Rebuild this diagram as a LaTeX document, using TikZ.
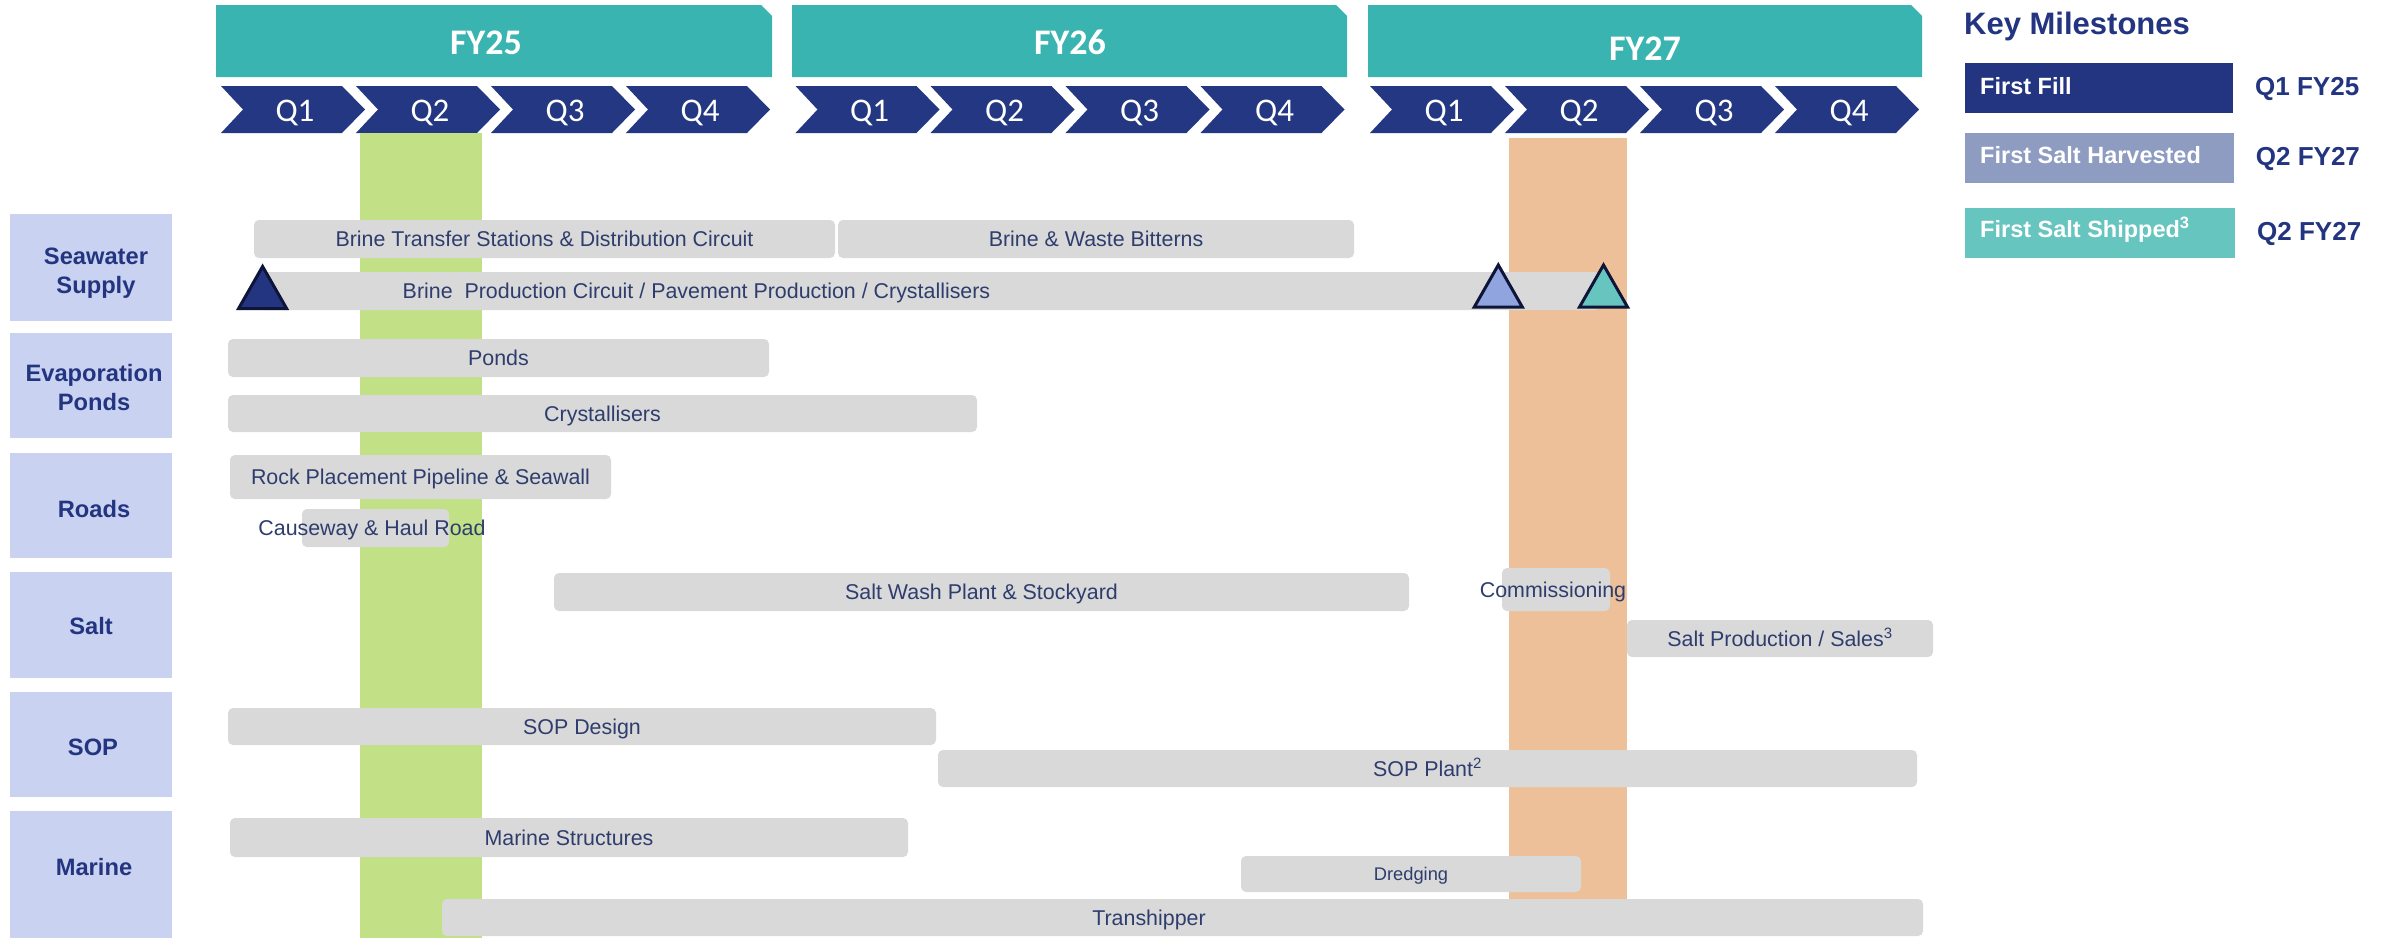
\documentclass[tikz,border=0pt]{standalone}
\usepackage{fontspec}
\setmainfont{Liberation Sans}
\newfontfamily\calib{Carlito}
\definecolor{hdrteal}{HTML}{3AB4B1}
\definecolor{chevnavy}{HTML}{243782}
\definecolor{navy}{HTML}{233580}
\definecolor{leglav}{HTML}{8F9CC2}
\definecolor{legteal}{HTML}{66C5BF}
\definecolor{trilav}{HTML}{90A4E0}
\definecolor{tristroke}{HTML}{0E1538}
\definecolor{colgreen}{HTML}{C2E187}
\definecolor{colorange}{HTML}{EDC09A}
\definecolor{catfill}{HTML}{C9D2F0}
\definecolor{barfill}{HTML}{D9D9D9}
\definecolor{bartext}{HTML}{2E3D6D}
\begin{document}
\begin{tikzpicture}[x=1pt,y=-1pt,
  bar/.style={fill=barfill, rounded corners=5pt, inner sep=0pt, outer sep=0pt},
  bartxt/.style={text=bartext, font=\fontsize{21.4}{24}\selectfont, inner sep=0pt, text height=15.3pt, text depth=0pt},
  barT/.style={bar, bartxt},
  cat/.style={fill=catfill, inner sep=0pt, outer sep=0pt, minimum width=162pt},
  cattxt/.style={text=navy, font=\bfseries\fontsize{23.7}{28}\selectfont, inner sep=0pt, text height=17pt, text depth=0pt},
  qtxt/.style={text=white, font=\calib\fontsize{33}{36}\selectfont, inner sep=0pt, text height=21.3pt, text depth=0pt},
  fytxt/.style={text=white, font=\calib\bfseries\fontsize{36}{40}\selectfont, inner sep=0pt, text height=23.2pt, text depth=0pt},
  tri/.style={draw=tristroke, line width=3pt, line join=miter},
  legbox/.style={inner sep=0pt, outer sep=0pt, minimum height=50pt},
  legtxt/.style={text=white, font=\bfseries\fontsize{23.5}{27}\selectfont, inner sep=0pt, text height=16.8pt, text depth=0pt, anchor=west},
  legdate/.style={text=navy, font=\bfseries\fontsize{26}{30}\selectfont, inner sep=0pt, text height=18.6pt, text depth=0pt, anchor=west},
]
\useasboundingbox (0,0) rectangle (2394,938);
\fill[white] (0,0) rectangle (2394,938);

% year headers
\foreach \a/\b in {216/772, 792/1347, 1368/1922}
  \fill[hdrteal] (\a,5) -- (\b-11,5) -- (\b,16) -- (\b,77) -- (\a,77) -- cycle;
\node[fytxt] (fy25) at (486,43) {FY25};
\node[fytxt] (fy26) at (1070,43) {FY26};
\node[fytxt] (fy27) at (1645,49) {FY27};

% quarter chevrons
\foreach \yr/\L in {25/221, 26/795.5, 27/1370} {
  \foreach \q in {1,...,4} {
    \pgfmathsetmacro\xq{\L+(\q-1)*135}
    \fill[chevnavy] (\xq,86) -- (\xq+121,86) -- (\xq+144,109.5) -- (\xq+121,133) -- (\xq,133) -- (\xq+22,109.5) -- cycle;
    \node[qtxt] (q\yr-\q) at (\xq+74,111) {Q\q};
  }
}

% highlight columns
\fill[colgreen] (360,133) rectangle (482,938);
\fill[colorange] (1509,138) rectangle (1627,900);

% category boxes
\node[cat, minimum height=107pt] (sws) at (91,267.5) {};
\node[cat, minimum height=105pt] (evp) at (91,385.5) {};
\node[cat, minimum height=105pt] (rds) at (91,505.5) {};
\node[cat, minimum height=106pt] (slt) at (91,625) {};
\node[cat, minimum height=105pt] (sop) at (91,744.5) {};
\node[cat, minimum height=127pt] (mrn) at (91,874.5) {};
\node[cattxt] (sws-a) at (96,255.7) {Seawater};
\node[cattxt] (sws-b) at (96,285) {Supply};
\node[cattxt] (evp-a) at (94,372.8) {Evaporation};
\node[cattxt] (evp-b) at (94,402) {Ponds};
\node[cattxt] (rds-a) at (94,509) {Roads};
\node[cattxt] (slt-a) at (91,626) {Salt};
\node[cattxt] (sop-a) at (93,746.7) {SOP};
\node[cattxt] (mrn-a) at (94,866.7) {Marine};

% activity bars
\node[barT, minimum width=581pt, minimum height=38pt] (bts) at (544.5,239) {Brine Transfer Stations \& Distribution Circuit};
\node[barT, minimum width=516pt, minimum height=38pt] (bwb) at (1096,239) {Brine \& Waste Bitterns};
\node[bar, minimum width=1340pt, minimum height=38pt] (bpc) at (930,291) {};
\node[bartxt] (bpc-t) at (696.5,291) {Brine\ \ Production Circuit / Pavement Production / Crystallisers};
\node[barT, minimum width=541pt, minimum height=38pt] (pnd) at (498.5,358) {Ponds};
\node[barT, minimum width=749pt, minimum height=37pt] (cry) at (602.5,413.5) {Crystallisers};
\node[barT, minimum width=381pt, minimum height=44pt] (rck) at (420.5,477) {Rock Placement Pipeline \& Seawall};
\node[bar, minimum width=147pt, minimum height=38pt] (cau) at (375.5,528) {};
\node[bartxt] (cau-t) at (372,528) {Causeway \& Haul Road};
\node[barT, minimum width=855pt, minimum height=38pt] (swp) at (981.5,592) {Salt Wash Plant \& Stockyard};
\node[bar, minimum width=108pt, minimum height=43pt] (com) at (1556,589.5) {};
\node[bartxt] (com-t) at (1553,590) {Commissioning};
\node[barT, minimum width=306pt, minimum height=37pt] (spr) at (1780,638.5) {Salt Production / Sales\textsuperscript{3}};
\node[barT, minimum width=708pt, minimum height=37pt] (sdn) at (582,726.5) {SOP Design};
\node[barT, minimum width=979pt, minimum height=37pt] (spl) at (1427.5,768.5) {SOP Plant\textsuperscript{2}};
\node[barT, minimum width=678pt, minimum height=39pt] (mst) at (569,837.5) {Marine Structures};
\node[bar, minimum width=340pt, minimum height=36pt] (drd) at (1411,874) {};
\node[bartxt, font=\fontsize{18.3}{21}\selectfont, text height=13.1pt] (drd-t) at (1411,874) {Dredging};
\node[bar, minimum width=1481pt, minimum height=37pt] (trn) at (1182.5,917.5) {};
\node[bartxt] (trn-t) at (1149,917.5) {Transhipper};

% milestone triangles
\filldraw[fill=navy, tri] (238.6,308.5) -- (262.6,266.5) -- (286.6,308.5) -- cycle;
\filldraw[fill=trilav, tri] (1474.3,307) -- (1498.3,265) -- (1522.3,307) -- cycle;
\filldraw[fill=legteal, tri] (1579.5,307) -- (1603.5,265) -- (1627.5,307) -- cycle;

% key milestones legend
\node[text=navy, font=\bfseries\fontsize{31}{36}\selectfont, inner sep=0pt, text height=22.2pt, text depth=0pt, anchor=west] (keyms) at (1964,23.5) {Key Milestones};
\node[legbox, fill=navy, minimum width=268pt] (lg1) at (2099,88) {};
\node[legbox, fill=leglav, minimum width=269pt] (lg2) at (2099.5,158) {};
\node[legbox, fill=legteal, minimum width=270pt] (lg3) at (2100,233) {};
\node[legtxt] (lg1t) at (1980,85.8) {First Fill};
\node[legtxt] (lg2t) at (1980,155.3) {First Salt Harvested};
\node[legtxt] (lg3t) at (1980,229.2) {First Salt Shipped\textsuperscript{3}};
\node[legdate] (lg1d) at (2255,86.5) {Q1 FY25};
\node[legdate] (lg2d) at (2255.7,156.2) {Q2 FY27};
\node[legdate] (lg3d) at (2257,231.2) {Q2 FY27};
\end{tikzpicture}
\end{document}
